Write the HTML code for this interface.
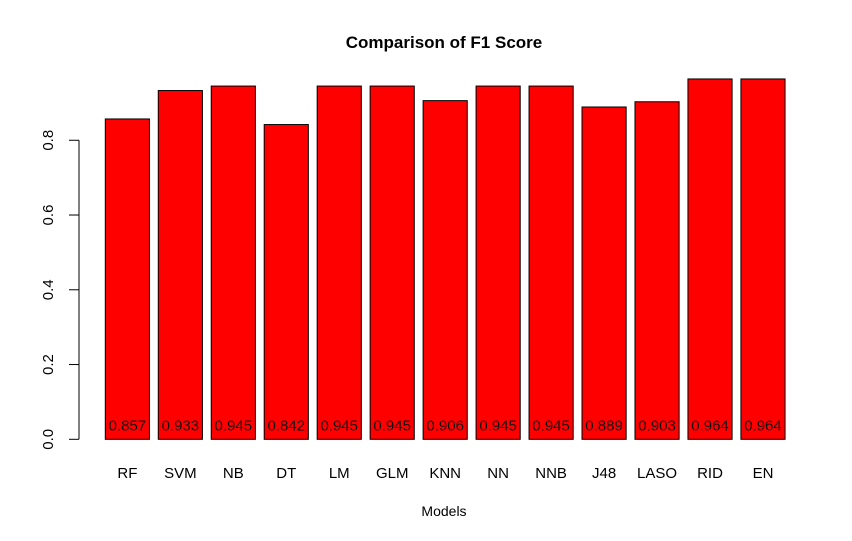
<!DOCTYPE html>
<html><head><meta charset="utf-8"><style>
body{margin:0;background:#fff;}
svg{display:block;font-family:"Liberation Sans",Arial,sans-serif;}
</style></head><body>
<svg id="chart" width="852" height="541" viewBox="0 0 852 541">
<text x="444" y="48" text-anchor="middle" font-size="17" font-weight="bold">Comparison of F1 Score</text>
<text x="444" y="516" text-anchor="middle" font-size="14">Models</text>
<g id="yaxis"></g>
<g id="bars"></g>
</svg>
<script>
const categories = ["RF","SVM","NB","DT","LM","GLM","KNN","NN","NNB","J48","LASO","RID","EN"];
const values = [0.857,0.933,0.945,0.842,0.945,0.945,0.906,0.945,0.945,0.889,0.903,0.964,0.964];
const valueLabels = ["0.857","0.933","0.945","0.842","0.945","0.945","0.906","0.945","0.945","0.889","0.903","0.964","0.964"];
const yTicks = [0,0.2,0.4,0.6,0.8];
const yTickLabels = ["0.0","0.2","0.4","0.6","0.8"];

const NS="http://www.w3.org/2000/svg";
const y0=439.3, yScale=373.8;
const yPos=v=>y0-v*yScale;
const unit=44.14, xStart=105.3-0.2*unit;
const xPos=u=>xStart+u*unit;
function mk(tag,attrs,parent){const e=document.createElementNS(NS,tag);for(const k in attrs)e.setAttribute(k,attrs[k]);parent.appendChild(e);return e;}

const ya=document.getElementById('yaxis');
const axl=mk('line',{x1:79,x2:79,y1:yPos(yTicks[0]),y2:yPos(yTicks[yTicks.length-1]),stroke:'#000'},ya);


yTicks.forEach((t,i)=>{
  const y=yPos(t);
  const tk=mk('line',{x1:69,x2:79,y1:y,y2:y,stroke:'#000'},ya);
  
  
  const tx=mk('text',{x:0,y:0,'text-anchor':'middle','font-size':15,transform:`translate(53,${y}) rotate(-90)`},ya);
  tx.textContent=yTickLabels[i];
  
  
});

const bg=document.getElementById('bars');
categories.forEach((c,i)=>{
  const l=xPos(0.2+i*1.2), r=l+unit, cx=(l+r)/2;
  const rect=mk('rect',{x:l,y:yPos(values[i]),width:unit,height:yPos(0)-yPos(values[i]),fill:'#ff0000',stroke:'#000','stroke-width':1},bg);
  
  
  const vl=mk('text',{x:cx,y:yPos(0)-9,'text-anchor':'middle','font-size':15,fill:'#111'},bg);
  vl.textContent=valueLabels[i];
  
  
  const cl=mk('text',{x:cx,y:478,'text-anchor':'middle','font-size':15},bg);
  cl.textContent=c;
  
  
});
</script>
</body></html>
